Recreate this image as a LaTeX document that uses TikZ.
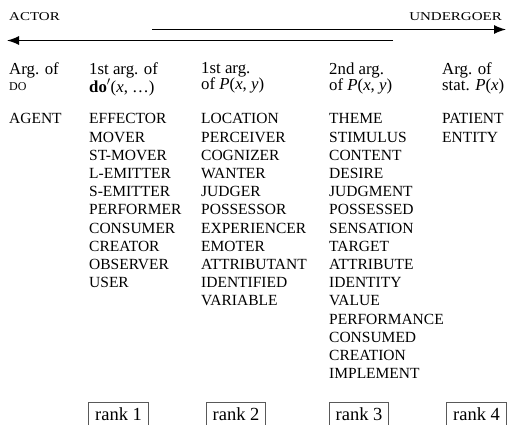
\documentclass[tikz,border=0pt]{standalone}
\usepackage{fontspec}
\setmainfont{Liberation Serif}
\newfontfamily\capsfont[FakeStretch=1.25]{Liberation Serif}
\usetikzlibrary{arrows.meta,positioning}
\newcommand{\macrorole}[1]{{\fontsize{12}{14}\selectfont #1}}

\begin{document}
\begin{tikzpicture}[x=1pt,y=1pt,
    macro/.style={inner sep=0pt,anchor=base west,font=\capsfont\fontsize{12}{14}\selectfont},
    head/.style={inner sep=0pt,anchor=north west,align=left,font=\fontsize{16.8}{15.8}\selectfont},
    role/.style={inner sep=0pt,anchor=north west,align=left,font=\fontsize{15.5}{18.2}\selectfont},
    rank/.style={draw=black!65,line width=0.8pt,anchor=north,inner xsep=6.5pt,inner ysep=0pt,
        text height=18pt,text depth=8pt,font=\fontsize{18.5}{20}\selectfont},
    dir/.style={line width=1.3pt,-{Latex[length=12pt,width=9pt]}}]%
        \clip (0,0) rectangle (507,-425);
        % macroroles and the continuum
        \node[macro] (actor) at (9,-20.7) {ACTOR};
        \node[macro,anchor=base east] (undergoer) at (502,-20.7) {UNDERGOER};
        \coordinate (ustart) at (152,-29.5);
        \coordinate (uend) at (506,-29.5);
        \coordinate (astart) at (393,-40.5);
        \coordinate (aend) at (7,-40.5);
        \draw[dir] (ustart) -- (uend);
        \draw[dir] (astart) -- (aend);
        % argument positions
        \node[head] (h0) at (9,-62.5) {Arg. of\\\macrorole{DO}};
        \node[head] (h1) at (89,-62.5) {1st arg. of\\\textbf{do}$'$(\textit{x}, \dots)};
        \node[head] (h2) at (201,-62.5) {1st arg.\\of \textit{P}(\textit{x}, \textit{y})};
        \node[head] (h3) at (329,-62.5) {2nd arg.\\of \textit{P}(\textit{x}, \textit{y})};
        \node[head] (h4) at (442,-62.5) {Arg. of\\stat. \textit{P}(\textit{x})};
        % thematic relations
        \node[role] (agent) at (9,-113.5) {AGENT};
        \node[role] (effector) at (89,-113.5) {EFFECTOR\\MOVER\\ST-MOVER\\L-EMITTER\\S-EMITTER\\PERFORMER\\CONSUMER\\CREATOR\\OBSERVER\\USER};
        \node[role] (location) at (201,-113.5) {LOCATION\\PERCEIVER\\COGNIZER\\WANTER\\JUDGER\\POSSESSOR\\EXPERIENCER\\EMOTER\\ATTRIBUTANT\\IDENTIFIED\\VARIABLE};
        \node[role] (theme) at (329,-113.5) {THEME\\STIMULUS\\CONTENT\\DESIRE\\JUDGMENT\\POSSESSED\\SENSATION\\TARGET\\ATTRIBUTE\\IDENTITY\\VALUE\\PERFORMANCE\\CONSUMED\\CREATION\\IMPLEMENT};
        \node[role] (patient) at (442,-113.5) {PATIENT\\ENTITY};
        % ranks
        \node[rank] (rank1) at (118.5,-402) {rank 1};
        \node[rank] (rank2) at (236,-402) {rank 2};
        \node[rank] (rank3) at (359,-402) {rank 3};
        \node[rank] (rank4) at (476.5,-402) {rank 4};
    \end{tikzpicture}
\end{document}
